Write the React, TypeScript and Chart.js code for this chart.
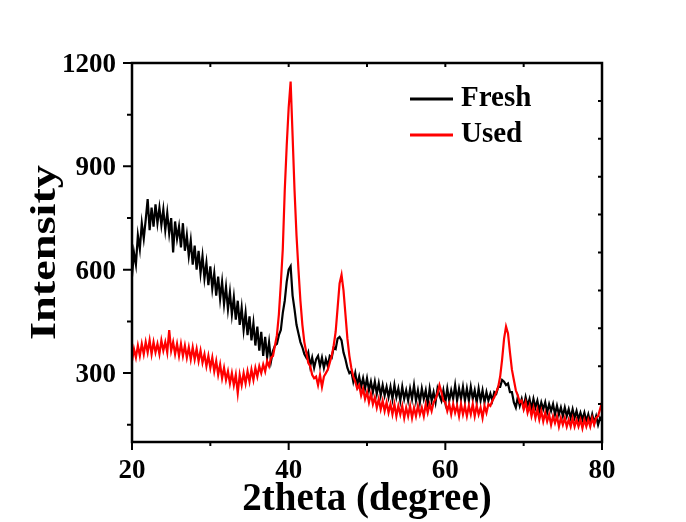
import React, { useEffect, useRef } from 'react';
import { Chart, registerables } from 'chart.js';

Chart.register(...registerables);

// Sampling grid: 2theta from 20 to 80 degrees, one reading every 0.25 degree
const X_START = 20;
const X_STEP = 0.25;

// Fresh sample intensities (4 readings per degree, 20.00 .. 80.00)
const freshIntensity = [
  580, 650, 615, 700, // 20
  660, 735, 690, 745, // 21
  805, 715, 780, 725, // 22
  790, 735, 780, 730, // 23
  775, 715, 765, 705, // 24
  750, 650, 740, 690, // 25
  725, 665, 735, 655, // 26
  700, 640, 685, 615, // 27
  670, 600, 655, 590, // 28
  640, 575, 620, 555, // 29
  610, 545, 590, 525, // 30
  580, 515, 565, 500, // 31
  550, 485, 535, 470, // 32
  520, 455, 510, 440, // 33
  490, 425, 475, 410, // 34
  465, 395, 445, 380, // 35
  435, 365, 420, 350, // 36
  405, 345, 390, 335, // 37
  365, 380, 385, 410, // 38
  425, 475, 510, 565, // 39
  600, 610, 525, 485, // 40
  440, 415, 390, 375, // 41
  355, 345, 360, 320, // 42
  345, 315, 340, 350, // 43
  320, 345, 315, 340, // 44
  320, 350, 345, 375, // 45
  370, 400, 405, 395, // 46
  360, 340, 315, 300, // 47
  305, 275, 300, 265, // 48
  290, 260, 285, 255, // 49
  285, 250, 275, 245, // 50
  275, 240, 270, 235, // 51
  265, 235, 260, 230, // 52
  260, 225, 265, 230, // 53
  255, 220, 260, 225, // 54
  250, 220, 255, 225, // 55
  265, 220, 250, 215, // 56
  255, 225, 250, 210, // 57
  255, 220, 245, 215, // 58
  255, 235, 220, 250, // 59
  215, 255, 220, 250, // 60
  225, 265, 220, 255, // 61
  225, 260, 220, 255, // 62
  220, 260, 225, 250, // 63
  215, 255, 220, 250, // 64
  215, 245, 220, 240, // 65
  220, 245, 240, 260, // 66
  260, 280, 275, 265, // 67
  270, 245, 245, 215, // 68
  200, 230, 205, 225, // 69
  200, 230, 205, 225, // 70
  195, 225, 200, 220, // 71
  190, 215, 195, 215, // 72
  185, 210, 190, 210, // 73
  180, 205, 180, 200, // 74
  175, 200, 175, 195, // 75
  170, 195, 170, 190, // 76
  165, 185, 165, 185, // 77
  160, 180, 155, 180, // 78
  155, 175, 150, 170, // 79
  160, // 80
];

// Used sample intensities (4 readings per degree, 20.00 .. 80.00)
const usedIntensity = [
  335, 370, 345, 380, // 20
  350, 385, 355, 390, // 21
  360, 395, 355, 390, // 22
  360, 385, 355, 395, // 23
  365, 390, 360, 425, // 24
  365, 390, 355, 385, // 25
  350, 385, 350, 380, // 26
  345, 375, 340, 375, // 27
  340, 370, 335, 365, // 28
  330, 355, 320, 350, // 29
  315, 345, 305, 335, // 30
  295, 325, 285, 315, // 31
  280, 305, 270, 300, // 32
  265, 295, 242, 295, // 33
  265, 300, 270, 305, // 34
  275, 310, 280, 315, // 35
  290, 320, 300, 325, // 36
  305, 335, 320, 345, // 37
  350, 380, 410, 470, // 38
  560, 660, 830, 960, // 39
  1070, 1146, 990, 830, // 40
  700, 600, 510, 440, // 41
  390, 360, 330, 320, // 42
  295, 285, 290, 265, // 43
  295, 260, 290, 300, // 44
  310, 330, 350, 380, // 45
  420, 490, 560, 585, // 46
  540, 470, 400, 350, // 47
  315, 290, 275, 255, // 48
  265, 235, 255, 225, // 49
  245, 215, 240, 210, // 50
  230, 200, 225, 195, // 51
  220, 190, 215, 185, // 52
  210, 180, 210, 175, // 53
  205, 180, 205, 170, // 54
  200, 175, 205, 170, // 55
  200, 175, 205, 180, // 56
  200, 175, 210, 185, // 57
  210, 190, 215, 225, // 58
  240, 265, 245, 220, // 59
  215, 190, 210, 180, // 60
  210, 185, 205, 175, // 61
  210, 180, 205, 175, // 62
  205, 180, 210, 175, // 63
  205, 180, 200, 170, // 64
  205, 185, 210, 205, // 65
  220, 230, 245, 260, // 66
  290, 340, 400, 435, // 67
  415, 360, 310, 280, // 68
  250, 235, 215, 220, // 69
  195, 215, 185, 205, // 70
  175, 200, 170, 195, // 71
  165, 190, 160, 185, // 72
  160, 180, 150, 175, // 73
  155, 175, 145, 170, // 74
  150, 170, 145, 165, // 75
  145, 170, 145, 165, // 76
  145, 165, 140, 165, // 77
  145, 165, 145, 170, // 78
  150, 170, 175, 195, // 79
  215, // 80
];

const seriesNames = ['Fresh', 'Used'];
const seriesColors = ['#000000', '#ff0000'];

const X_MIN = 20;
const X_MAX = 80;
const Y_MIN = 100;
const Y_MAX = 1200;

const xTickLabels = [20, 40, 60, 80];
const xMinorTicks = [30, 50, 70];
const yTickLabels = [300, 600, 900, 1200];
const yMinorTicks = [150, 450, 750, 1050];
const topTicks = [30, 40, 50, 60, 70];
const rightTicks = [210, 320, 430, 540, 650, 760, 870, 980, 1090];

const xTitle = '2theta (degree)';
const yTitle = 'Intensity';

const FONT = '"Liberation Serif", "Times New Roman", serif';

const framePlugin = {
  id: 'originFrame',
  afterDraw(chart: any) {
    const { ctx, chartArea: a } = chart;
    const xs = chart.scales.x;
    const ys = chart.scales.y;
    ctx.save();
    ctx.strokeStyle = '#000';
    ctx.fillStyle = '#000';
    ctx.lineWidth = 2.5;
    ctx.strokeRect(a.left, a.top, a.right - a.left, a.bottom - a.top);

    ctx.lineWidth = 2;
    ctx.beginPath();
    for (const v of yTickLabels) {
      const p = ys.getPixelForValue(v);
      ctx.moveTo(a.left - 9, p);
      ctx.lineTo(a.left, p);
    }
    for (const v of yMinorTicks) {
      const p = ys.getPixelForValue(v);
      ctx.moveTo(a.left - 5, p);
      ctx.lineTo(a.left, p);
    }
    for (const v of xTickLabels) {
      const p = xs.getPixelForValue(v);
      ctx.moveTo(p, a.bottom);
      ctx.lineTo(p, a.bottom + 8);
    }
    for (const v of xMinorTicks) {
      const p = xs.getPixelForValue(v);
      ctx.moveTo(p, a.bottom);
      ctx.lineTo(p, a.bottom + 4);
    }
    for (const v of topTicks) {
      const p = xs.getPixelForValue(v);
      ctx.moveTo(p, a.top);
      ctx.lineTo(p, a.top + 4);
    }
    for (const v of rightTicks) {
      const p = ys.getPixelForValue(v);
      ctx.moveTo(a.right, p);
      ctx.lineTo(a.right - 4, p);
    }
    ctx.stroke();

    // tick labels
    ctx.font = `bold 27px ${FONT}`;
    ctx.textBaseline = 'alphabetic';
    ctx.textAlign = 'right';
    for (const v of yTickLabels) {
      const p = ys.getPixelForValue(v);
      ctx.fillText(String(v), a.left - 16, p + 9);
    }
    ctx.textAlign = 'center';
    for (const v of xTickLabels) {
      const p = xs.getPixelForValue(v);
      ctx.fillText(String(v), p, a.bottom + 36);
    }

    // x title
    ctx.font = `bold 39px ${FONT}`;
    ctx.fillText(xTitle, (a.left + a.right) / 2, a.bottom + 68);

    // y title (rotated, stretched along its length)
    ctx.save();
    ctx.translate(55, (a.top + a.bottom) / 2);
    ctx.rotate(-Math.PI / 2);
    ctx.font = `bold 46px ${FONT}`;
    const w = ctx.measureText(yTitle).width;
    ctx.scale(175 / w, 0.77);
    ctx.textAlign = 'center';
    ctx.fillText(yTitle, 0, 0);
    ctx.restore();

    // legend
    const rows = [99, 135];
    seriesNames.forEach((name, i) => {
      ctx.strokeStyle = seriesColors[i];
      ctx.lineWidth = 3;
      ctx.beginPath();
      ctx.moveTo(410, rows[i]);
      ctx.lineTo(453, rows[i]);
      ctx.stroke();
      ctx.fillStyle = '#000';
      ctx.font = `bold 29px ${FONT}`;
      ctx.textAlign = 'left';
      ctx.fillText(name, 461, rows[i] + 7);
    });
    ctx.restore();
  },
};

export default function App() {
  const ref = useRef<HTMLCanvasElement>(null);
  useEffect(() => {
    if (!ref.current) return;
    const toPoints = (arr: number[]) => arr.map((v, i) => ({ x: X_START + i * X_STEP, y: v }));
    const chart = new Chart(ref.current, {
      type: 'line',
      data: {
        datasets: [
          {
            label: seriesNames[0],
            data: toPoints(freshIntensity),
            borderColor: seriesColors[0],
            backgroundColor: seriesColors[0],
            borderWidth: 2.2,
            pointRadius: 0,
            tension: 0,
            order: 1,
          },
          {
            label: seriesNames[1],
            data: toPoints(usedIntensity),
            borderColor: seriesColors[1],
            backgroundColor: seriesColors[1],
            borderWidth: 2.2,
            pointRadius: 0,
            tension: 0,
            order: 0,
          },
        ],
      },
      options: {
        animation: false,
        responsive: true,
        maintainAspectRatio: false,
        layout: { padding: { left: 0, top: 63, right: 84, bottom: 0 } },
        plugins: { legend: { display: false }, tooltip: { enabled: false } },
        scales: {
          x: {
            type: 'linear',
            min: X_MIN,
            max: X_MAX,
            grid: { display: false },
            border: { display: false },
            ticks: { display: false },
            afterFit: (s: any) => {
              s.height = 80;
            },
          },
          y: {
            type: 'linear',
            min: Y_MIN,
            max: Y_MAX,
            grid: { display: false },
            border: { display: false },
            ticks: { display: false },
            afterFit: (s: any) => {
              s.width = 132;
            },
          },
        },
      },
      plugins: [framePlugin],
    });
    return () => chart.destroy();
  }, []);
  return (
    <div style={{ position: 'absolute', left: 0, top: 0, width: 686, height: 522, background: '#fff' }}>
      <canvas ref={ref} />
    </div>
  );
}
